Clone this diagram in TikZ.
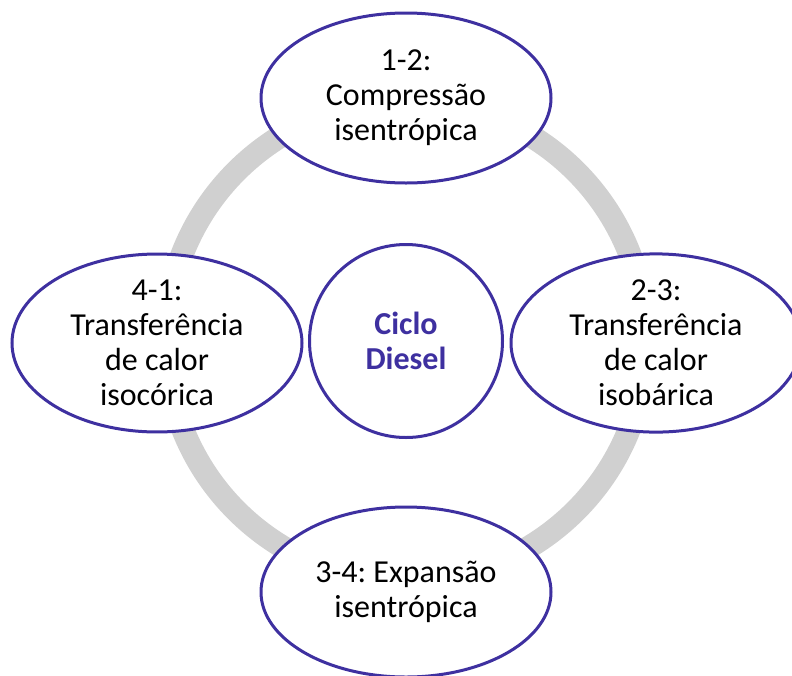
\documentclass[tikz,border=0pt]{standalone}
\usepackage{fontspec}
\setmainfont{Carlito}
\frenchspacing
\usetikzlibrary{shapes.geometric}
\definecolor{ringgray}{RGB}{208,208,208}
\definecolor{dpurple}{RGB}{62,48,160}
\tikzset{
  stage/.style={ellipse, draw=dpurple, line width=3pt, fill=white,
    minimum width=290pt, minimum height=170pt, inner sep=0pt, outer sep=0pt,
    align=center, font=\fontsize{32}{35}\selectfont, text=black},
  hub/.style={circle, draw=dpurple, line width=3pt, fill=white,
    minimum size=193pt, inner sep=0pt, outer sep=0pt,
    align=center, font=\fontsize{32}{35}\selectfont\bfseries, text=dpurple},
}
\begin{document}
\begin{tikzpicture}[x=1pt,y=-1pt]
\useasboundingbox (0,0) rectangle (792,675);
\clip (0,0) rectangle (792,675);
\coordinate (ctr) at (406,341);
\draw[ringgray, line width=23pt] (ctr) circle[radius=240pt];
\node[hub] (c) at (ctr) {Ciclo\\Diesel};
\node[stage] (n12) at (406,98) {1-2:\\Compressão\\isentrópica};
\node[stage] (n23) at (656,343) {2-3:\\Transferência\\de calor\\isobárica};
\node[stage] (n34) at (406,592) {3-4: Expansão\\isentrópica};
\node[stage] (n41) at (157,343) {4-1:\\Transferência\\de calor\\isocórica};
\end{tikzpicture}
\end{document}
